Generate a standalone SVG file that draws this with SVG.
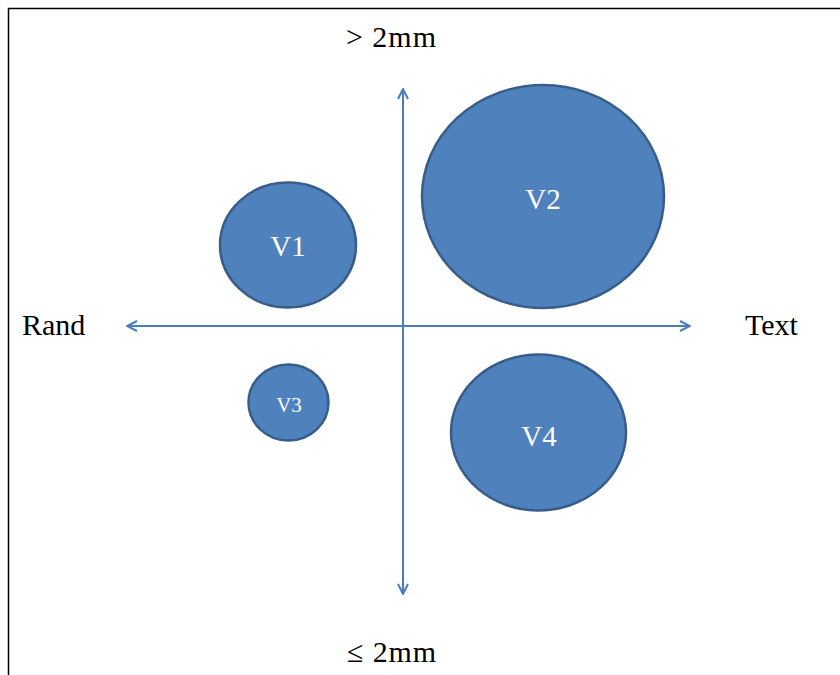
<svg xmlns="http://www.w3.org/2000/svg" width="840" height="675" viewBox="0 0 840 675">
<style>
.n{fill:#4F81BD;stroke:#385D8A;stroke-width:2.5}
.nl{font-family:"Liberation Serif",serif;fill:#fff;text-anchor:middle}
.ax{stroke:#4A7EBB;stroke-width:2;fill:none}
.lb{font-family:"Liberation Serif",serif;font-size:30px;fill:#000}
</style>
<defs>
<marker id="ah" viewBox="0 0 12 12" refX="11" refY="6" markerWidth="12" markerHeight="12" markerUnits="userSpaceOnUse" orient="auto-start-reverse">
<path d="M1,1 L11,6 L1,11" fill="none" stroke="#4A7EBB" stroke-width="2"/>
</marker>
</defs>
<rect x="8.5" y="8.5" width="900" height="700" fill="#fff" stroke="#000" stroke-width="1.5"/>
<g id="connectors">
<line class="ax" x1="403" y1="594" x2="403" y2="89" marker-start="url(#ah)" marker-end="url(#ah)"/>
<line class="ax" x1="127" y1="326" x2="690" y2="326" marker-start="url(#ah)" marker-end="url(#ah)"/>
</g>
<g id="V1"><ellipse class="n" cx="288" cy="245" rx="68" ry="62.5"/><text class="nl" x="288" y="256" font-size="29">V1</text></g>
<g id="V2"><ellipse class="n" cx="543" cy="196.5" rx="121" ry="111.5"/><text class="nl" x="543" y="209" font-size="29">V2</text></g>
<g id="V3"><ellipse class="n" cx="288.5" cy="402.5" rx="40" ry="38"/><text class="nl" x="289" y="412" font-size="21">V3</text></g>
<g id="V4"><ellipse class="n" cx="538.5" cy="432.5" rx="87.5" ry="78"/><text class="nl" x="539" y="446" font-size="29">V4</text></g>
<g id="labels">
<text class="lb" x="346" y="47" textLength="90">&gt; 2mm</text>
<text class="lb" x="22" y="335">Rand</text>
<text class="lb" x="745" y="335">Text</text>
<text class="lb" x="347" y="662" textLength="89">≤ 2mm</text>
</g>
</svg>
